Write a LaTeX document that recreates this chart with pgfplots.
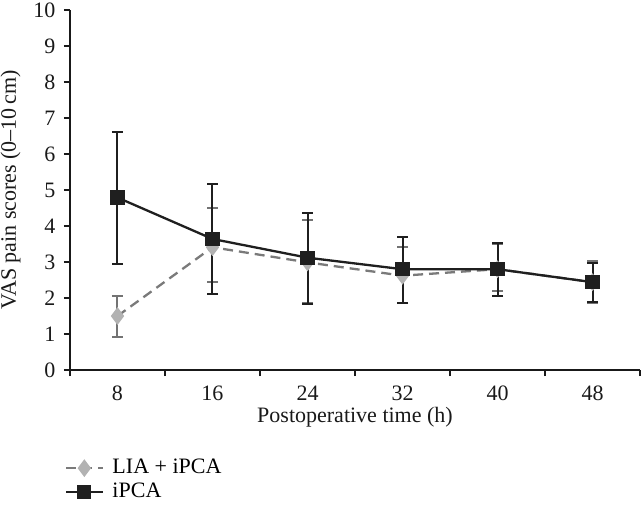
\documentclass[border=0pt]{standalone}
\usepackage{fontspec}
\setmainfont{Liberation Serif}
\usepackage{pgfplots}
\pgfplotsset{compat=1.18}
\begin{document}
\fontsize{22}{26}\selectfont
\begin{tikzpicture}
\begin{axis}[
  at={(0pt,0pt)}, anchor=south west,
  scale only axis, width=570pt, height=360pt,
  xmin=4, xmax=52, ymin=0, ymax=10,
  xtick={8,16,...,48},
  major x tick style={draw=none},
  minor xtick={4,12,...,52},
  ytick={0,...,10},
  axis lines=left,
  axis line style={-, line width=2pt, black!90},
  tick style={line width=1.5pt, black!90},
  tick align=outside,
  major tick length=6pt, minor tick length=6pt,
  /pgf/number format/assume math mode=true,
  tick label style={font=\fontsize{22}{26}\selectfont, black!90},
  label style={font=\fontsize{22}{26}\selectfont, black!90},
  xticklabel style={yshift=-2pt},
  yticklabel style={xshift=-1pt},
  xlabel={Postoperative time (h)},
  ylabel={VAS pain scores (0--10\,cm)},
  xlabel style={yshift=8pt},
  ylabel style={yshift=-2pt},
  clip=false,
  legend cell align=left,
  legend style={at={(axis description cs:0,0)}, anchor=north west, xshift=-8pt, yshift=-85pt,
    draw=none, fill=none, font=\fontsize{22}{26}\selectfont, row sep=2pt,
    /tikz/every odd column/.append style={column sep=6pt}},
  legend image code/.code={\draw[mark repeat=2,mark phase=2,#1] plot coordinates {(0pt,0pt)(18pt,0pt)(37pt,0pt)};},
]
\addplot[color=black!52, line width=2.3pt, dash pattern=on 10pt off 6pt,
  mark=diamond*, mark size=7pt, mark options={solid, fill=black!30, draw=black!30},
  error bars/.cd, y dir=both, y explicit,
  error bar style={solid, line width=2pt, black!55},
  error mark options={rotate=90, mark size=5.5pt, line width=2pt, black!55}]
coordinates {
(8,1.50) += (0,0.56) -= (0,0.59)
(16,3.41) += (0,1.08) -= (0,0.97)
(24,2.99) += (0,1.18) -= (0,1.14)
(32,2.62) += (0,0.81) -= (0,0.77)
(40,2.80) += (0,0.69) -= (0,0.60)
(48,2.44) += (0,0.59) -= (0,0.58)
};
\addlegendentry{LIA + iPCA}
\addplot[color=black!88, line width=2.3pt,
  mark=square*, mark size=6pt, mark options={solid, fill=black!88},
  error bars/.cd, y dir=both, y explicit,
  error bar style={solid, line width=2pt, black!88},
  error mark options={rotate=90, mark size=5.5pt, line width=2pt, black!88}]
coordinates {
(8,4.79) += (0,1.83) -= (0,1.85)
(16,3.64) += (0,1.53) -= (0,1.54)
(24,3.12) += (0,1.25) -= (0,1.29)
(32,2.80) += (0,0.89) -= (0,0.95)
(40,2.80) += (0,0.72) -= (0,0.75)
(48,2.44) += (0,0.53) -= (0,0.54)
};
\addlegendentry{iPCA}
\end{axis}
\pgfresetboundingbox
\path (-70pt,-150pt) rectangle (573pt,370pt);
\end{tikzpicture}
\end{document}
